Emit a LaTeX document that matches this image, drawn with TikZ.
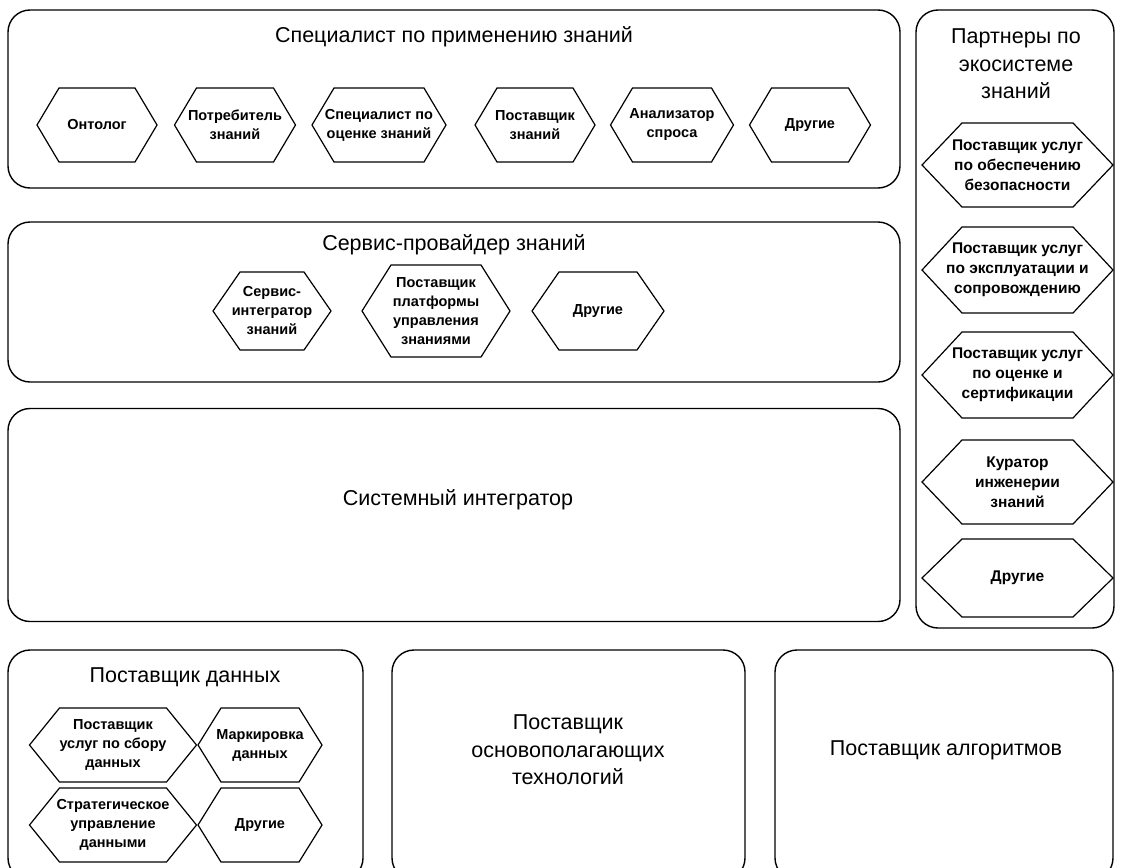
\documentclass[tikz,border=0pt]{standalone}
\usepackage{fontspec}
\setmainfont{Liberation Sans}

% hexagon round a named node: node name, slant of the side edges
\newcommand\hexframe[2]{%
  \draw[hexline] (#1.west) -- ([xshift=#2]#1.north west) -- ([xshift=-#2]#1.north east)
    -- (#1.east) -- ([xshift=-#2]#1.south east) -- ([xshift=#2]#1.south west) -- cycle;}

\begin{document}
\begin{tikzpicture}[x=1pt, y=-1pt,
  box/.style={draw, line width=1.4pt, rounded corners=22pt, inner sep=0pt},
  title/.style={font=\fontsize{21.5}{27.5}\selectfont, align=center},
  hexa/.style={inner sep=0pt, outer sep=0pt, align=center, minimum height=74pt,
    font=\fontsize{14.5}{19}\selectfont\bfseries},
  hexbig/.style={hexa, minimum width=191pt, font=\fontsize{15.5}{20}\selectfont\bfseries},
  hexline/.style={line width=1.2pt, line join=miter}]
\clip (0,0) rectangle (1121,867);
\fill [white] (0,0) rectangle (1121,867);

% outer boxes
\node [box, minimum width=892pt, minimum height=178pt] (spec) at (454,99) {};
\node [box, minimum width=892pt, minimum height=160pt] (serv) at (454,302) {};
\node [box, minimum width=892pt, minimum height=213pt] (sint) at (454,515) {};
\node [box, minimum width=198pt, minimum height=618pt] (part) at (1015,319) {};
\node [box, minimum width=355pt, minimum height=230pt] (data) at (185.5,765) {};
\node [box, minimum width=353pt, minimum height=230pt] (tech) at (568.5,765) {};
\node [box, minimum width=338pt, minimum height=230pt] (algo) at (944,765) {};

% titles
\node [title] (specT) at (454,37) {Специалист по применению знаний};
\node [title] (servT) at (454,245) {Сервис-провайдер знаний};
\node [title] (sintT) at (458,500) {Системный интегратор};
\node [title] (partT) at (1016,64) {Партнеры по\\экосистеме\\знаний};
\node [title] (dataT) at (185,677) {Поставщик данных};
\node [title] (techT) at (568,750) {Поставщик\\основополагающих\\технологий};
\node [title] (algoT) at (946,750) {Поставщик алгоритмов};

% specialist row
\node [hexa, minimum width=120pt] (onto) at (97,125) {Онтолог};
\node [hexa, minimum width=121pt] (potr) at (235,125) {Потребитель\\знаний};
\node [hexa, minimum width=134pt] (ocen) at (379,125) {Специалист по\\оценке знаний};
\node [hexa, minimum width=120pt] (post) at (535,125) {Поставщик\\знаний};
\node [hexa, minimum width=123pt] (anal) at (672,125) {Анализатор\\спроса};
\node [hexa, minimum width=121pt] (drugA) at (810,125) {Другие};
\foreach \n in {onto,potr,ocen,post,anal,drugA}
  {\hexframe{\n}{22pt}}

% service provider row
\node [hexa, minimum width=118pt, minimum height=78pt] (integ) at (272,311) {Сервис-\\интегратор\\знаний};
\node [hexa, minimum width=148pt, minimum height=92pt] (plat) at (436,311) {Поставщик\\платформы\\управления\\знаниями};
\node [hexa, minimum width=132pt, minimum height=78pt] (drugB) at (598,311) {Другие};
\hexframe{integ}{27pt}
\hexframe{plat}{29pt}
\hexframe{drugB}{27pt}

% partners column
\node [hexbig, minimum height=84pt] (bezo) at (1017.5,165) {Поставщик услуг\\по обеспечению\\безопасности};
\node [hexbig, minimum height=86pt] (expl) at (1017.5,270) {Поставщик услуг\\по эксплуатации и\\сопровождению};
\node [hexbig, minimum height=86pt] (sert) at (1017.5,375) {Поставщик услуг\\по оценке и\\сертификации};
\node [hexbig, minimum height=84pt] (kur) at (1017.5,482) {Куратор\\инженерии\\знаний};
\node [hexbig, minimum height=78pt] (drugC) at (1017.5,578) {Другие};
\foreach \n in {bezo,expl,sert,kur,drugC}
  {\hexframe{\n}{40pt}}

% data provider
\node [hexa, minimum width=167pt] (sbor) at (113,745) {Поставщик\\услуг по сбору\\данных};
\node [hexa, minimum width=124pt] (mark) at (260,745) {Маркировка\\данных};
\node [hexa, minimum width=167pt] (strat) at (113,825) {Стратегическое\\управление\\данными};
\node [hexa, minimum width=124pt] (drugD) at (260,825) {Другие};
\hexframe{sbor}{30pt}
\hexframe{mark}{23pt}
\hexframe{strat}{30pt}
\hexframe{drugD}{23pt}
\end{tikzpicture}
\end{document}
